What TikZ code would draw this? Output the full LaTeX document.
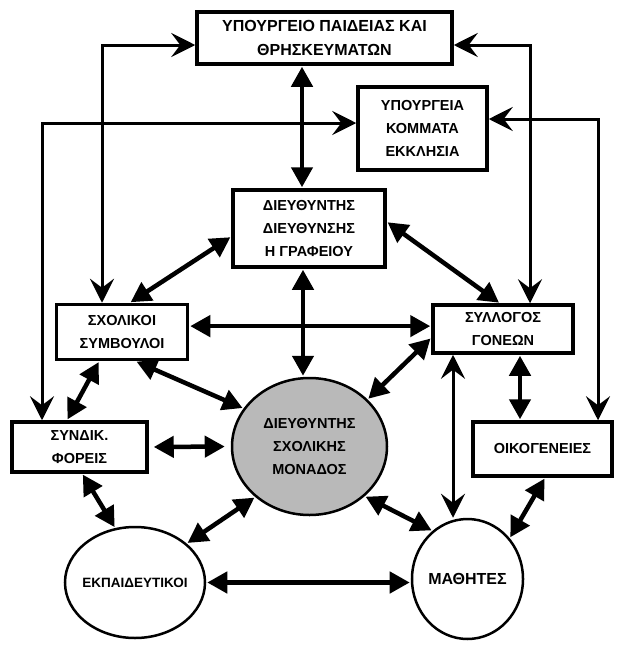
\documentclass[tikz,border=0pt]{standalone}
\usepackage{fontspec}
\setmainfont{Liberation Sans}
\usetikzlibrary{arrows.meta,shapes.geometric,positioning}

\begin{document}
\begin{tikzpicture}[x=1pt, y=-1pt, line join=miter, font=\bfseries\fontsize{14.5}{23}\selectfont]
   \tikzstyle{box}=[rectangle, draw, line width=3.5pt, align=center, inner sep=0pt]
   \tikzstyle{oval}=[ellipse, draw, line width=2.5pt, align=center, inner sep=0pt]
   \tikzstyle{dbl}=[{Triangle[length=20pt,width=21pt]}-{Triangle[length=20pt,width=21pt]}, line width=4.5pt, shorten <=1pt, shorten >=1pt]
   \tikzstyle{feed}=[{Stealth[length=24pt,width=24pt,inset=9pt]}-{Stealth[length=24pt,width=24pt,inset=9pt]}, line width=3pt]

   \useasboundingbox (0,0) rectangle (626,646);

   \node[box, minimum width=255pt, minimum height=52pt, font=\bfseries\fontsize{16}{24}\selectfont] (minedu) at (324.5,38) {ΥΠΟΥΡΓΕΙΟ ΠΑΙΔΕΙΑΣ ΚΑΙ\\ΘΡΗΣΚΕΥΜΑΤΩΝ};
   \node[box, minimum width=129pt, minimum height=83pt] (other) at (422.5,128.5) {ΥΠΟΥΡΓΕΙΑ\\ΚΟΜΜΑΤΑ\\ΕΚΚΛΗΣΙΑ};
   \node[box, minimum width=152pt, minimum height=77pt] (office) at (309,228.5) {ΔΙΕΥΘΥΝΤΗΣ\\ΔΙΕΥΘΥΝΣΗΣ\\Η ΓΡΑΦΕΙΟΥ};
   \node[box, minimum width=131pt, minimum height=55pt] (advisors) at (122,332) {ΣΧΟΛΙΚΟΙ\\ΣΥΜΒΟΥΛΟΙ};
   \node[box, minimum width=140pt, minimum height=48pt] (parents) at (503,329) {ΣΥΛΛΟΓΟΣ\\ΓΟΝΕΩΝ};
   \node[box, minimum width=135pt, minimum height=50pt] (unions) at (79.5,447) {ΣΥΝΔΙΚ.\\ΦΟΡΕΙΣ};
   \node[box, minimum width=139pt, minimum height=54pt] (families) at (542.5,449) {ΟΙΚΟΓΕΝΕΙΕΣ};
   \node[oval, fill=gray!55, minimum width=155pt, minimum height=137pt] (school) at (309.5,446.5) {ΔΙΕΥΘΥΝΤΗΣ\\ΣΧΟΛΙΚΗΣ\\ΜΟΝΑΔΟΣ};
   \node[oval, inner xsep=-30pt, minimum width=140pt, minimum height=111pt, font=\bfseries\fontsize{13.5}{23}\selectfont] (teachers) at (135,582.5) {ΕΚΠΑΙΔΕΥΤΙΚΟΙ};
   \node[oval, minimum width=105pt, minimum height=120pt, font=\bfseries\fontsize{16}{23}\selectfont] (students) at (467.5,579) {ΜΑΘΗΤΕΣ};

   % long lines round the outside
   \draw[feed] ([xshift=-20pt]advisors.north) |- ([yshift=-7pt]minedu.west);
   \draw[feed] ([xshift=27pt]parents.north) |- ([yshift=-7pt]minedu.east);
   \draw[feed] ([xshift=-37.5pt]unions.north) |- ([yshift=5.5pt]other.west);
   \draw[feed] ([xshift=55.5pt]families.north) |- ([yshift=9.5pt]other.east);
   \draw[feed] ([xshift=-50pt]parents.south) -- ([xshift=-50pt]parents.south |- students.north);

   \draw[dbl] ([xshift=-7pt]office.north) -- ([xshift=-7pt]office.north |- minedu.south);
   \draw[dbl] ([xshift=-6pt]office.south) -- ([xshift=-6pt]office.south |- school.north);

   \path
  (office.186)
    edge [dbl] (advisors.75)
  (office.5)
    edge [dbl] (parents.97)
  (advisors.5)
    edge [dbl] (advisors.5 -| parents.west)
  (advisors.295)
    edge [dbl] (school.150)
  (parents.187)
    edge [dbl] (school.39)
  (advisors.232)
    edge [dbl] (unions.115)
  (unions.east)
    edge [dbl, shorten <=5pt, shorten >=6pt] (school.west)
  (unions.276)
    edge [dbl] (teachers.110)
  (school.223)
    edge [dbl] (teachers.37)
  (school.318)
    edge [dbl] (students.126)
  (teachers.east)
    edge [dbl] (teachers.east -| students.west)
  (families.275)
    edge [dbl] (students.44)
  ([xshift=17pt]parents.south)
    edge [dbl] ([xshift=17pt]parents.south |- families.north)
   ;
\end{tikzpicture}
\end{document}
